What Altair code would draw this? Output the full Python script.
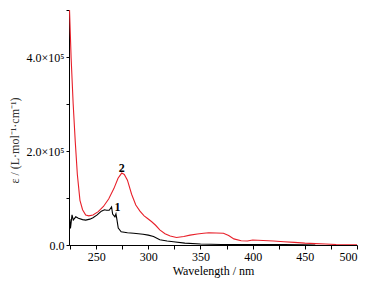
import altair as alt
import pandas as pd

# Curve 2 (red)
red_nm = [224.5, 226, 228, 230, 232, 234.5, 237, 240, 243, 247, 252, 257, 262, 267, 271,
          274.5, 277, 280, 284, 288, 292, 296, 299, 303, 307, 311, 316, 321, 327, 334, 340,
          347, 353, 358, 365, 372, 377, 382, 389, 395, 400, 410, 420, 430, 440, 450, 460,
          470, 480, 490, 500]
red_eps = [5.0e5, 4.0e5, 3.0e5, 2.2e5, 1.5e5, 0.95e5, 0.75e5, 0.64e5, 0.62e5, 0.64e5, 0.71e5,
           0.82e5, 0.98e5, 1.20e5, 1.42e5, 1.53e5, 1.50e5, 1.38e5, 1.08e5, 0.85e5, 0.72e5,
           0.62e5, 0.57e5, 0.50e5, 0.42e5, 0.32e5, 0.24e5, 0.19e5, 0.16e5, 0.18e5, 0.21e5,
           0.235e5, 0.25e5, 0.26e5, 0.255e5, 0.25e5, 0.20e5, 0.13e5, 0.09e5, 0.085e5, 0.105e5,
           0.095e5, 0.085e5, 0.07e5, 0.055e5, 0.04e5, 0.03e5, 0.02e5, 0.01e5, 0.005e5, 0.002e5]

# Curve 1 (black)
blk_nm = [224.8, 225.4, 226.9, 228.1, 230.5, 233, 237, 240, 244, 247, 251, 255, 258, 260,
          262.5, 264.8, 265.8, 268, 269, 269.7, 271.2, 274, 280, 286, 295, 300, 305, 311,
          318, 324, 335, 350, 370, 400, 430, 450, 460]
blk_eps = [0.55e5, 0.35e5, 0.64e5, 0.53e5, 0.60e5, 0.57e5, 0.54e5, 0.53e5, 0.55e5, 0.58e5,
           0.64e5, 0.72e5, 0.75e5, 0.74e5, 0.74e5, 0.81e5, 0.66e5, 0.60e5, 0.66e5, 0.57e5,
           0.36e5, 0.28e5, 0.26e5, 0.25e5, 0.23e5, 0.21e5, 0.18e5, 0.11e5, 0.085e5, 0.07e5,
           0.04e5, 0.02e5, 0.012e5, 0.01e5, 0.008e5, 0.004e5, 0.0]

# Curve labels
lab_text = ["1", "2"]
lab_nm = [270.5, 274.5]
lab_eps = [0.80e5, 1.63e5]

x_ticks = [225.0, 250.0, 275.0, 300.0, 325.0, 350.0, 375.0, 400.0, 425.0, 450.0, 475.0, 500.0]
y_ticks = [0, 1e5, 2e5, 3e5, 4e5, 5e5]

df = pd.concat([
    pd.DataFrame({"nm": blk_nm, "eps": blk_eps, "s": "1"}),
    pd.DataFrame({"nm": red_nm, "eps": red_eps, "s": "2"}),
])
lab = pd.DataFrame({"t": lab_text, "nm": lab_nm, "eps": lab_eps})

FONT = "Liberation Serif"

xsc = alt.Scale(domain=[224, 500], nice=False, zero=False)
ysc = alt.Scale(domain=[0, 5e5], nice=False)

xax = alt.Axis(values=x_ticks, title="Wavelength / nm",
               labelExpr="datum.value % 50 == 0 ? format(datum.value, 'd') : ''",
               labelOverlap=False,
               grid=False, tickSize=4, domainColor="black", tickColor="black",
               ticks=True, labels=True,
               labelFont=FONT, labelFontSize=12, labelColor="black",
               titleFont=FONT, titleFontSize=12, titleFontWeight="normal",
               titleColor="black", titlePadding=3, labelPadding=2)
yax = alt.Axis(values=y_ticks, title="ε / (L·mol⁻¹·cm⁻¹)",
               labelExpr="datum.value == 0 ? '0.0' : (datum.value % 200000 == 0 ? format(datum.value/100000, '.1f') + '×10⁵' : '')",
               labelOverlap=False,
               grid=False, tickSize=3, domainColor="black", tickColor="black",
               labelFont=FONT, labelFontSize=12, labelColor="black",
               titleFont=FONT, titleFontSize=12, titleFontWeight="normal",
               titleColor="#333333", titleX=-55, titleY=130, titleAngle=270,
               titleAlign="center", titleBaseline="middle", labelPadding=2)

lines = alt.Chart(df).mark_line(strokeWidth=1.1, clip=True).encode(
    x=alt.X("nm:Q", scale=xsc, axis=xax),
    y=alt.Y("eps:Q", scale=ysc, axis=yax),
    color=alt.Color("s:N", scale=alt.Scale(domain=["1", "2"], range=["#000000", "#e8202a"]),
                    legend=None),
    order=alt.Order("nm:Q"),
)

labels = alt.Chart(lab).mark_text(font=FONT, fontSize=12, fontWeight="bold",
                                  color="black").encode(
    x=alt.X("nm:Q", scale=xsc, axis=xax),
    y=alt.Y("eps:Q", scale=ysc, axis=yax),
    text="t:N",
)

chart = alt.layer(lines, labels).properties(
    width=288, height=235,
    autosize=alt.AutoSizeParams(type="none"),
    padding={"left": 69, "top": 10, "right": 14, "bottom": 39},
).configure_view(stroke=None)

chart.save("out.html", embed_options={"renderer": "svg", "actions": False})
